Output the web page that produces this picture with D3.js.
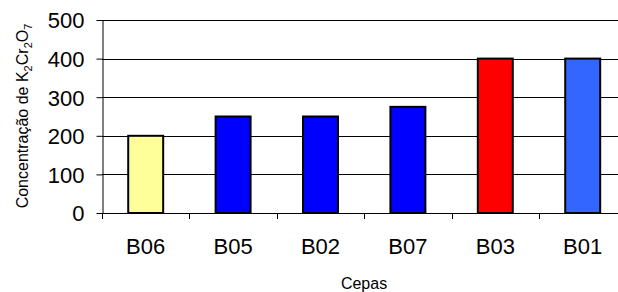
<!DOCTYPE html>
<html>
<head>
<meta charset="utf-8">
<script src="https://cdn.jsdelivr.net/npm/d3@7"></script>
<style>
  body { margin: 0; background: #fff; }
  text { font-family: "Liberation Sans", Arial, sans-serif; fill: #000; }
</style>
</head>
<body>
<div id="chart"></div>
<script>
// Chart data
const categories = ['B06', 'B05', 'B02', 'B07', 'B03', 'B01'];
const values = [200, 250, 250, 275, 400, 400];
const barColors = ['#FFFF99', '#0000FF', '#0000FF', '#0000FF', '#FF0000', '#3366FF'];
const yTicks = [0, 100, 200, 300, 400, 500];

const width = 618;
const height = 292;
const plotLeft = 102;
const plotTop = 20;
const plotBottom = 213;
const band = 87.4;

const svg = d3.select('#chart')
    .append('svg')
    .attr('width', width)
    .attr('height', height);

const x = d3.scaleBand()
    .domain(categories)
    .range([plotLeft, plotLeft + band * categories.length])
    .paddingInner(0.6)
    .paddingOuter(0.3);

const y = d3.scaleLinear()
    .domain([0, 500])
    .range([plotBottom, plotTop]);

// Gridlines
svg.append('g')
    .selectAll('line')
    .data(yTicks.slice(1))
    .enter()
    .append('line')
    .attr('x1', plotLeft)
    .attr('x2', width)
    .attr('y1', d => Math.round(y(d)) + 0.5)
    .attr('y2', d => Math.round(y(d)) + 0.5)
    .attr('stroke', '#000')
    .attr('stroke-width', 1);

// Y axis
const yAxis = svg.append('g')
    .attr('transform', `translate(${plotLeft + 0.5},0)`)
    .call(d3.axisLeft(y).tickValues(yTicks).tickSize(6).tickPadding(12).tickSizeOuter(0));
yAxis.select('.domain').attr('stroke', '#000');
yAxis.selectAll('text')
    .style('font-size', '22px')
    .attr('dy', '0.36em');

// X axis baseline and ticks between categories
svg.append('line')
    .attr('x1', plotLeft)
    .attr('x2', width)
    .attr('y1', plotBottom + 0.5)
    .attr('y2', plotBottom + 0.5)
    .attr('stroke', '#000');

svg.append('g')
    .selectAll('line')
    .data(d3.range(categories.length + 1))
    .enter()
    .append('line')
    .attr('x1', i => Math.round(plotLeft + i * band) + 0.5)
    .attr('x2', i => Math.round(plotLeft + i * band) + 0.5)
    .attr('y1', plotBottom)
    .attr('y2', plotBottom + 6)
    .attr('stroke', '#000');

// Bars
svg.append('g')
    .selectAll('rect')
    .data(values)
    .enter()
    .append('rect')
    .attr('x', (d, i) => x(categories[i]))
    .attr('y', d => y(d))
    .attr('width', x.bandwidth())
    .attr('height', d => plotBottom - y(d))
    .attr('fill', (d, i) => barColors[i])
    .attr('stroke', '#000')
    .attr('stroke-width', 2);

// Category labels
svg.append('g')
    .selectAll('text')
    .data(categories)
    .enter()
    .append('text')
    .attr('x', d => x(d) + x.bandwidth() / 2)
    .attr('y', 254)
    .attr('text-anchor', 'middle')
    .style('font-size', '22px')
    .text(d => d);

// Axis titles
svg.append('text')
    .attr('x', 364)
    .attr('y', 289)
    .attr('text-anchor', 'middle')
    .style('font-size', '16px')
    .text('Cepas');

const yTitle = svg.append('text')
    .attr('transform', 'translate(28,116) rotate(-90)')
    .attr('text-anchor', 'middle')
    .style('font-size', '16px');
yTitle.append('tspan').text('Concentração de K');
yTitle.append('tspan').attr('dy', 4).style('font-size', '11px').text('2');
yTitle.append('tspan').attr('dy', -4).text('Cr');
yTitle.append('tspan').attr('dy', 4).style('font-size', '11px').text('2');
yTitle.append('tspan').attr('dy', -4).text('O');
yTitle.append('tspan').attr('dy', 4).style('font-size', '11px').text('7');
</script>
</body>
</html>
